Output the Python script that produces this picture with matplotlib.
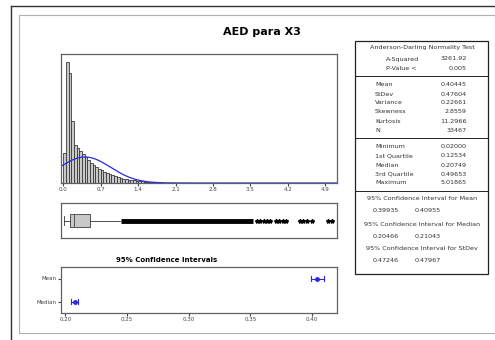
import numpy as np
import matplotlib.pyplot as plt
from matplotlib.patches import Rectangle

# --- data ---
bin_width = 0.05
hist_counts = [1600, 6500, 5900, 3350, 2050, 1890, 1730, 1570, 1400, 1250,
               1100, 980, 870, 770, 680, 600, 530, 470, 410, 360,
               310, 270, 240, 210, 180, 160, 140, 120, 100, 90,
               80, 70, 60, 50, 40, 35, 25, 15]
mean_x, sd_x, n_x = 0.40445, 0.47604, 33467
q_min, q1, med, q3, q_max = 0.02000, 0.12534, 0.20749, 0.49653, 5.01865
upper_whisker = 1.05
outlier_band = (1.07, 3.55)
outliers = [3.63, 3.68, 3.76, 3.81, 3.87, 3.98, 4.04, 4.11, 4.17,
            4.43, 4.49, 4.56, 4.65, 4.95, 5.02]
ci_labels = ['Mean', 'Median']
ci_low = [0.39935, 0.20466]
ci_high = [0.40955, 0.21043]
ci_center = [mean_x, med]
x_ticks = [0.0, 0.7, 1.4, 2.1, 2.8, 3.5, 4.2, 4.9]
ci_ticks = [0.20, 0.25, 0.30, 0.35, 0.40]

W, H = 495, 340
fig = plt.figure(figsize=(W / 100, H / 100), dpi=100)
fig.patch.set_facecolor('white')


def ax_px(x0, y0, x1, y1):
    return fig.add_axes([x0 / W, 1 - y1 / H, (x1 - x0) / W, (y1 - y0) / H])


def txt(x, y, s, **kw):
    fig.text(x / W, 1 - y / H, s, **kw)


# window frames
fig.add_artist(plt.Line2D([11 / W, 11 / W], [0, 1 - 6 / H], color='#333333', lw=1))
fig.add_artist(plt.Line2D([11 / W, 1], [1 - 6 / H, 1 - 6 / H], color='#333333', lw=1))
fig.add_artist(Rectangle((19 / W, 1 - 333 / H), (W - 19) / W, (333 - 15) / H,
                         transform=fig.transFigure, fill=False, ec='#b0b0b0', lw=0.8))

txt(262, 32, 'AED para X3', ha='center', va='center', fontsize=8, fontweight='bold')

small = 4
spine_c = '#606060'

# histogram
ax = ax_px(61, 54, 337, 183)
edges = np.arange(len(hist_counts) + 1) * bin_width
ax.bar(edges[:-1], hist_counts, width=bin_width, align='edge',
       color='#c8c8c8', edgecolor='#3a3a3a', linewidth=0.6)
xs = np.linspace(-0.1, 5.2, 400)
pdf = n_x * bin_width * np.exp(-0.5 * ((xs - mean_x) / sd_x) ** 2) / (sd_x * np.sqrt(2 * np.pi))
ax.plot(xs, pdf, color='#2a2ae0', lw=0.9)
ax.set_xlim(-0.045, 5.12)
ax.set_ylim(0, 6950)
ax.set_xticks(x_ticks)
ax.set_xticklabels([f'{t:.1f}' for t in x_ticks])
ax.set_yticks([])
ax.tick_params(axis='x', labelsize=small, length=2, pad=1, colors='#444444')

# boxplot
bx = ax_px(61, 203, 337, 238)
bx.add_patch(Rectangle((q1, -0.35), q3 - q1, 0.7, fc='#c8c8c8', ec='#555555', lw=0.7))
bx.plot([med, med], [-0.35, 0.35], color='#555555', lw=0.7)
bx.plot([q_min, q1], [0, 0], color='#333333', lw=0.6)
bx.plot([q3, upper_whisker], [0, 0], color='#333333', lw=0.6)
bx.plot([q_min, q_min], [-0.25, 0.25], color='#333333', lw=0.6)
bx.plot(list(outlier_band), [0, 0], color='black', lw=3.5, solid_capstyle='butt')
bx.plot(outliers, [0] * len(outliers), ls='none', marker='*', color='black', ms=3)
bx.set_xlim(-0.045, 5.12)
bx.set_ylim(-1, 1)
bx.set_xticks([])
bx.set_yticks([])

# confidence intervals
txt(167, 260, '95% Confidence Intervals', ha='center', va='center', fontsize=5, fontweight='bold')
cx = ax_px(61, 267, 337, 313)
ypos = [1, 0]
for y, lo, hi, c in zip(ypos, ci_low, ci_high, ci_center):
    cx.plot([lo, hi], [y, y], color='#2a2ae0', lw=0.8)
    cx.plot([lo, lo], [y - 0.12, y + 0.12], color='#2a2ae0', lw=0.8)
    cx.plot([hi, hi], [y - 0.12, y + 0.12], color='#2a2ae0', lw=0.8)
    cx.plot([c], [y], marker='o', color='#2a2ae0', ms=2.5)
cx.set_xlim(0.1965, 0.4203)
cx.set_ylim(-0.5, 1.5)
cx.set_xticks(ci_ticks)
cx.set_xticklabels([f'{t:.2f}' for t in ci_ticks])
cx.set_yticks(ypos)
cx.set_yticklabels(ci_labels)
cx.tick_params(labelsize=small, length=2, pad=1, colors='#444444')

for a in (ax, bx, cx):
    for s in a.spines.values():
        s.set_color(spine_c)
        s.set_linewidth(0.9)

# summary table
tx0, tx1, ty0, ty1 = 355, 488, 41, 274
fig.add_artist(Rectangle((tx0 / W, 1 - ty1 / H), (tx1 - tx0) / W, (ty1 - ty0) / H,
                         transform=fig.transFigure, fill=False, ec='#222222', lw=0.9))
for yl in (76, 138, 191):
    fig.add_artist(plt.Line2D([tx0 / W, tx1 / W], [1 - yl / H, 1 - yl / H], color='#222222', lw=0.7))

tc = '#333333'
ts = 4.6
txt(422, 48, 'Anderson-Darling Normality Test', ha='center', va='center', fontsize=ts, color=tc)
rows_top = [('A-Squared', '3261.92', 59), ('P-Value <', '0.005', 68)]
for lab, val, y in rows_top:
    txt(386, y, lab, ha='left', va='center', fontsize=ts, color=tc)
    txt(467, y, val, ha='right', va='center', fontsize=ts, color=tc)

stats_labels = ['Mean', 'StDev', 'Variance', 'Skewness', 'Kurtosis', 'N',
                'Minimum', '1st Quartile', 'Median', '3rd Quartile', 'Maximum']
stats_values = ['0.40445', '0.47604', '0.22661', '2.8559', '11.2966', '33467',
                '0.02000', '0.12534', '0.20749', '0.49653', '5.01865']
stats_y = [85, 94, 103, 112, 121, 130, 147, 156, 165, 174, 183]
for lab, val, y in zip(stats_labels, stats_values, stats_y):
    txt(375, y, lab, ha='left', va='center', fontsize=ts, color=tc)
    txt(467, y, val, ha='right', va='center', fontsize=ts, color=tc)

ci_heads = ['95% Confidence Interval for Mean', '95% Confidence Interval for Median',
            '95% Confidence Interval for StDev']
ci_vals = [('0.39935', '0.40955'), ('0.20466', '0.21043'), ('0.47246', '0.47967')]
head_y = [199, 224, 249]
for h, (a, b), y in zip(ci_heads, ci_vals, head_y):
    txt(422, y, h, ha='center', va='center', fontsize=ts, color=tc)
    txt(386, y + 12, a, ha='center', va='center', fontsize=ts, color=tc)
    txt(428, y + 12, b, ha='center', va='center', fontsize=ts, color=tc)

fig.savefig('out.png', dpi=100)
